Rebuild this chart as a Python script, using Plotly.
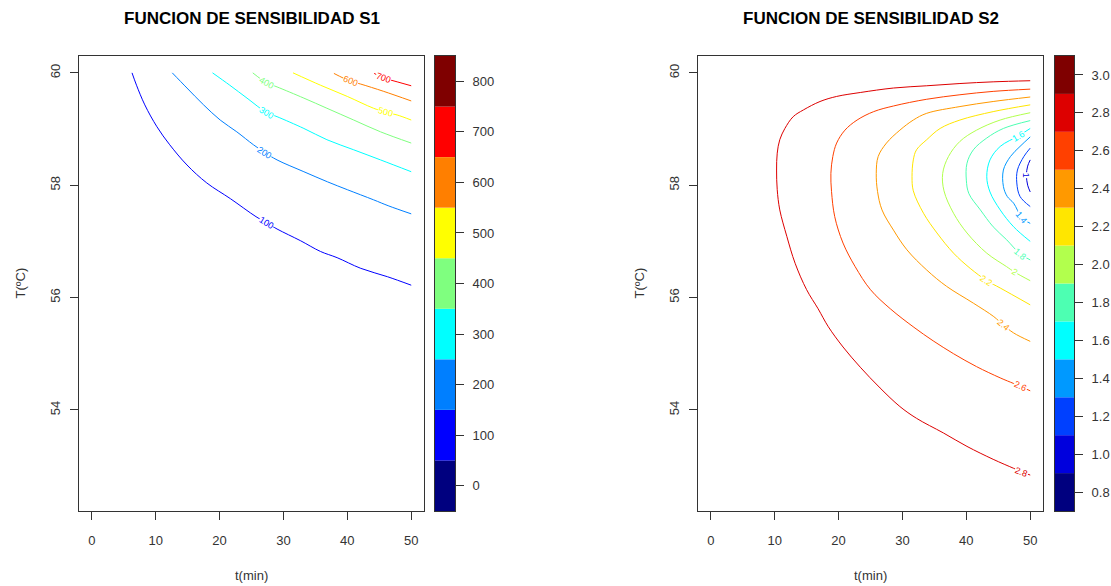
import math
import numpy as np
import plotly.graph_objects as go

# ---------------- S1: contour lines (t in min, T in ºC) ----------------
s1_levels = [100, 200, 300, 400, 500, 600, 700]

s1_t_100 = [6.3, 7.0, 8.3, 10.2, 12.2, 14.9, 18.0, 21.7, 25.7, 27.4, 29.0, 32.7, 35.8, 38.4, 42.1, 46.3, 50.0]
s1_T_100 = [60.0, 59.78, 59.43, 59.04, 58.72, 58.36, 58.04, 57.76, 57.44, 57.33, 57.22, 57.01, 56.82, 56.71, 56.52, 56.37, 56.22]

s1_t_200 = [12.6, 14.9, 17.5, 20.1, 22.7, 25.3, 27.1, 29.0, 33.2, 36.9, 40.0, 44.1, 46.5, 50.0]
s1_T_200 = [60.0, 59.73, 59.43, 59.16, 58.95, 58.72, 58.58, 58.45, 58.24, 58.06, 57.92, 57.74, 57.63, 57.49]

s1_t_300 = [18.9, 21.6, 24.3, 27.4, 29.0, 33.2, 36.8, 41.0, 45.2, 50.0]
s1_T_300 = [60.0, 59.78, 59.55, 59.29, 59.22, 59.01, 58.81, 58.63, 58.45, 58.24]

s1_t_400 = [25.2, 27.4, 29.0, 33.2, 36.8, 41.0, 45.2, 50.0]
s1_T_400 = [60.0, 59.82, 59.75, 59.55, 59.37, 59.16, 58.95, 58.75]

s1_t_500 = [31.5, 35.8, 40.0, 44.1, 46.0, 47.8, 50.0]
s1_T_500 = [60.0, 59.78, 59.58, 59.37, 59.30, 59.25, 59.16]

s1_t_600 = [37.9, 40.5, 42.1, 45.7, 50.0]
s1_T_600 = [59.99, 59.85, 59.80, 59.67, 59.50]

s1_t_700 = [44.2, 45.7, 47.8, 50.0]
s1_T_700 = [59.99, 59.91, 59.84, 59.77]

# point of each S1 line that carries its value label
s1_label_at = [9, 6, 3, 1, 4, 1, 1]

# S1 colour key
s1_key_edges = [-50, 50, 150, 250, 350, 450, 550, 650, 750, 850]
s1_key_colors = ["#00007F", "#0000FF", "#007FFF", "#00FFFF", "#7FFF7F",
                 "#FFFF00", "#FF7F00", "#FF0000", "#7F0000"]
s1_key_ticks = [0, 100, 200, 300, 400, 500, 600, 700, 800]

# ---------------- S2: contour lines ----------------
s2_levels = [1.0, 1.2, 1.4, 1.6, 1.8, 2.0, 2.2, 2.4, 2.6, 2.8]

s2_t_10 = [50.0, 49.6, 49.4, 49.6, 50.0]
s2_T_10 = [58.45, 58.34, 58.18, 58.00, 57.88]

s2_t_12 = [50.0, 49.0, 48.0, 47.9, 48.4, 50.0]
s2_T_12 = [58.66, 58.51, 58.27, 58.04, 57.80, 57.62]

s2_t_14 = [50.0, 48.4, 46.9, 45.8, 45.8, 46.4, 47.4, 48.7, 50.0]
s2_T_14 = [58.86, 58.69, 58.51, 58.27, 57.98, 57.80, 57.68, 57.42, 57.32]

s2_t_16 = [50.0, 48.2, 45.3, 43.7, 43.2, 43.7, 45.3, 47.4, 50.0]
s2_T_16 = [59.01, 58.88, 58.69, 58.45, 58.15, 57.88, 57.56, 57.26, 57.00]

s2_t_18 = [50.0, 45.8, 43.2, 41.1, 40.1, 40.0, 40.4, 42.2, 44.2, 46.3, 48.4, 50.0]
s2_T_18 = [59.15, 59.01, 58.84, 58.63, 58.39, 58.09, 57.85, 57.56, 57.26, 57.03, 56.78, 56.67]

s2_t_20 = [50.0, 45.3, 41.6, 39.0, 37.2, 36.3, 36.5, 38.0, 40.1, 43.2, 46.3, 47.6, 50.0]
s2_T_20 = [59.29, 59.16, 58.98, 58.78, 58.51, 58.21, 57.90, 57.50, 57.15, 56.79, 56.55, 56.45, 56.30]

s2_t_22 = [50.0, 44.2, 39.0, 35.9, 33.8, 32.2, 31.7, 31.5, 31.7, 33.3, 35.4, 38.0, 40.6, 43.2, 45.3, 50.0]
s2_T_22 = [59.43, 59.31, 59.16, 59.01, 58.81, 58.63, 58.45, 58.15, 57.90, 57.50, 57.15, 56.79, 56.52, 56.30, 56.17, 55.87]

s2_t_24 = [50.0, 44.2, 39.0, 33.8, 31.7, 29.6, 27.5, 26.2, 25.9, 26.1, 26.8, 28.6, 30.7, 33.8, 36.9, 41.1, 44.3, 45.8, 47.4, 50.0]
s2_T_24 = [59.57, 59.49, 59.40, 59.28, 59.16, 58.98, 58.75, 58.51, 58.21, 57.89, 57.56, 57.20, 56.85, 56.49, 56.20, 55.90, 55.66, 55.51, 55.37, 55.22]

s2_t_26 = [50.0, 44.2, 39.0, 33.8, 28.6, 25.5, 22.9, 21.0, 19.7, 19.1, 18.8, 18.9, 19.4, 20.7, 22.6, 25.0, 28.1, 31.8, 34.8, 38.0, 41.6, 45.3, 47.4, 48.4, 50.0]
s2_T_26 = [59.71, 59.67, 59.61, 59.53, 59.41, 59.31, 59.16, 58.98, 58.75, 58.51, 58.21, 57.89, 57.44, 56.97, 56.55, 56.14, 55.80, 55.47, 55.23, 55.00, 54.77, 54.57, 54.47, 54.42, 54.34]

s2_t_28 = [50.0, 44.2, 39.0, 33.8, 28.6, 23.4, 19.7, 17.1, 14.5, 12.9, 11.6, 10.8, 10.4, 10.3, 10.4, 10.8, 11.9, 13.2, 15.0, 16.8, 18.4, 20.7, 23.4, 26.5, 29.6, 32.2, 36.4, 40.1, 44.2, 47.4, 48.6, 50.0]
s2_T_28 = [59.86, 59.84, 59.81, 59.77, 59.73, 59.65, 59.58, 59.49, 59.34, 59.22, 59.01, 58.81, 58.57, 58.27, 57.92, 57.56, 57.09, 56.61, 56.14, 55.80, 55.48, 55.12, 54.76, 54.39, 54.06, 53.85, 53.59, 53.35, 53.12, 52.96, 52.90, 52.84]

s2_label_at = [2, None, 7, 1, 10, 11, 13, 17, 23, 30]

# S2 colour key
s2_key_edges = [0.7, 0.9, 1.1, 1.3, 1.5, 1.7, 1.9, 2.1, 2.3, 2.5, 2.7, 2.9, 3.1]
s2_key_colors = ["#00007F", "#0000DD", "#0040FF", "#0099FF", "#00FFFF", "#4DFFB2",
                 "#B2FF4D", "#FFE600", "#FF9900", "#FF4000", "#DD0000", "#7F0000"]
s2_key_ticks = [0.8, 1.0, 1.2, 1.4, 1.6, 1.8, 2.0, 2.2, 2.4, 2.6, 2.8, 3.0]

# axis ticks shared by both panels
t_ticks = [0, 10, 20, 30, 40, 50]
T_ticks = [54, 56, 58, 60]

# ---------------- layout geometry (pixels) ----------------
W, H = 1111, 586
PLOT_TOP, PLOT_BOT = 56, 511
LEFT_BOX = (79, 424)
RIGHT_BOX = (698, 1043)
LEFT_KEY = (435, 455)
RIGHT_KEY = (1055, 1074)
X_RANGE = [-2, 52]
Y_RANGE = [52.2, 60.3]

FONT = "Liberation Sans, Arial, sans-serif"
INK = "#333333"

PX_PER_T = (LEFT_BOX[1] - LEFT_BOX[0]) / (X_RANGE[1] - X_RANGE[0])
PX_PER_DEG = (PLOT_BOT - PLOT_TOP) / (Y_RANGE[1] - Y_RANGE[0])


def xdom(a, b):
    return [a / W, b / W]


YDOM = [1 - PLOT_BOT / H, 1 - PLOT_TOP / H]

fig = go.Figure()
annotations = []


def add_lines(curves, levels, label_at, edges, colors, xa, ya, fmt):
    for lev, (tt, TT), li in zip(levels, curves, label_at):
        k = int(np.searchsorted(edges, lev)) - 1
        col = colors[k]
        fig.add_trace(go.Scatter(
            x=tt, y=TT, mode="lines",
            line=dict(color=col, width=1, shape="spline", smoothing=1.0),
            xaxis=xa, yaxis=ya, hoverinfo="skip", showlegend=False))
        if li is None:
            continue
        i0, i1 = max(li - 1, 0), min(li + 1, len(tt) - 1)
        dx = (tt[i1] - tt[i0]) * PX_PER_T
        dy = -(TT[i1] - TT[i0]) * PX_PER_DEG
        ang = math.degrees(math.atan2(dy, dx))
        if ang > 90:
            ang -= 180
        elif ang <= -90:
            ang += 180
        annotations.append(dict(
            x=tt[li], y=TT[li], xref=xa, yref=ya, text=fmt(lev),
            showarrow=False, textangle=ang, bgcolor="white", borderpad=0,
            font=dict(size=9, color=col, family=FONT)))


def add_key(edges, colors, xa, ya):
    e = np.asarray(edges, dtype=float)
    fig.add_trace(go.Bar(
        x=[0.5] * len(colors), y=np.diff(e), base=e[:-1], width=1,
        marker=dict(color=colors, line=dict(width=0)),
        xaxis=xa, yaxis=ya, hoverinfo="skip", showlegend=False))


s1_curves = [(s1_t_100, s1_T_100), (s1_t_200, s1_T_200), (s1_t_300, s1_T_300),
             (s1_t_400, s1_T_400), (s1_t_500, s1_T_500), (s1_t_600, s1_T_600),
             (s1_t_700, s1_T_700)]
s2_curves = [(s2_t_10, s2_T_10), (s2_t_12, s2_T_12), (s2_t_14, s2_T_14),
             (s2_t_16, s2_T_16), (s2_t_18, s2_T_18), (s2_t_20, s2_T_20),
             (s2_t_22, s2_T_22), (s2_t_24, s2_T_24), (s2_t_26, s2_T_26),
             (s2_t_28, s2_T_28)]

add_lines(s1_curves, s1_levels, s1_label_at, s1_key_edges, s1_key_colors,
          "x", "y", lambda v: f"{v:g}")
add_lines(s2_curves, s2_levels, s2_label_at, s2_key_edges, s2_key_colors,
          "x2", "y2", lambda v: f"{v:g}")
add_key(s1_key_edges, s1_key_colors, "x3", "y3")
add_key(s2_key_edges, s2_key_colors, "x4", "y4")

tickfont = dict(size=13, color=INK, family=FONT)


def main_x(box, anchor):
    return dict(domain=xdom(*box), anchor=anchor, range=X_RANGE, tickvals=t_ticks,
                ticks="outside", ticklen=8, tickcolor=INK, showline=True,
                mirror=True, linecolor=INK, linewidth=1, showgrid=False,
                zeroline=False, tickfont=tickfont, ticklabelstandoff=9,
                fixedrange=True)


def main_y(anchor):
    return dict(domain=YDOM, anchor=anchor, range=Y_RANGE, tickvals=T_ticks,
                tickangle=-90, ticks="outside", ticklen=8, tickcolor=INK,
                showline=True, mirror=True, linecolor=INK, linewidth=1,
                showgrid=False, zeroline=False, tickfont=tickfont,
                ticklabelstandoff=5, fixedrange=True)


def key_x(box, anchor):
    return dict(domain=xdom(*box), anchor=anchor, range=[0, 1], showticklabels=False,
                ticks="", showline=True, mirror=True, linecolor=INK, linewidth=1,
                showgrid=False, zeroline=False, fixedrange=True)


def key_y(anchor, edges, ticks, fmt):
    return dict(domain=YDOM, anchor=anchor, side="right", range=[edges[0], edges[-1]],
                tickvals=ticks, tickformat=fmt, ticks="outside", ticklen=8,
                tickcolor=INK, showline=True, mirror=True, linecolor=INK,
                linewidth=1, showgrid=False, zeroline=False, tickfont=tickfont,
                ticklabelstandoff=6, fixedrange=True)


def paper_y(px):
    return 1 - px / H


titles = [("FUNCION DE SENSIBILIDAD S1", LEFT_BOX), ("FUNCION DE SENSIBILIDAD S2", RIGHT_BOX)]
for text, box in titles:
    annotations.append(dict(
        x=(box[0] + box[1]) / 2 / W, y=paper_y(18), xref="paper", yref="paper",
        text=f"<b>{text}</b>", showarrow=False, xanchor="center", yanchor="middle",
        font=dict(size=17, color="#000000", family=FONT)))
    annotations.append(dict(
        x=(box[0] + box[1]) / 2 / W, y=paper_y(575), xref="paper", yref="paper",
        text="t(min)", showarrow=False, xanchor="center", yanchor="middle",
        font=dict(size=13, color=INK, family=FONT)))
    annotations.append(dict(
        x=(box[0] - 59) / W, y=paper_y((PLOT_TOP + PLOT_BOT) / 2), xref="paper",
        yref="paper", text="T(ºC)", showarrow=False, textangle=-90,
        xanchor="center", yanchor="middle",
        font=dict(size=13, color=INK, family=FONT)))

fig.update_layout(
    width=W, height=H,
    margin=dict(l=0, r=0, t=0, b=0, autoexpand=False),
    paper_bgcolor="white", plot_bgcolor="white",
    font=dict(family=FONT, color=INK),
    showlegend=False,
    xaxis=main_x(LEFT_BOX, "y"), yaxis=main_y("x"),
    xaxis2=main_x(RIGHT_BOX, "y2"), yaxis2=main_y("x2"),
    xaxis3=key_x(LEFT_KEY, "y3"), yaxis3=key_y("x3", s1_key_edges, s1_key_ticks, "d"),
    xaxis4=key_x(RIGHT_KEY, "y4"), yaxis4=key_y("x4", s2_key_edges, s2_key_ticks, ".1f"),
    annotations=annotations,
)

fig.write_html("out.html")
